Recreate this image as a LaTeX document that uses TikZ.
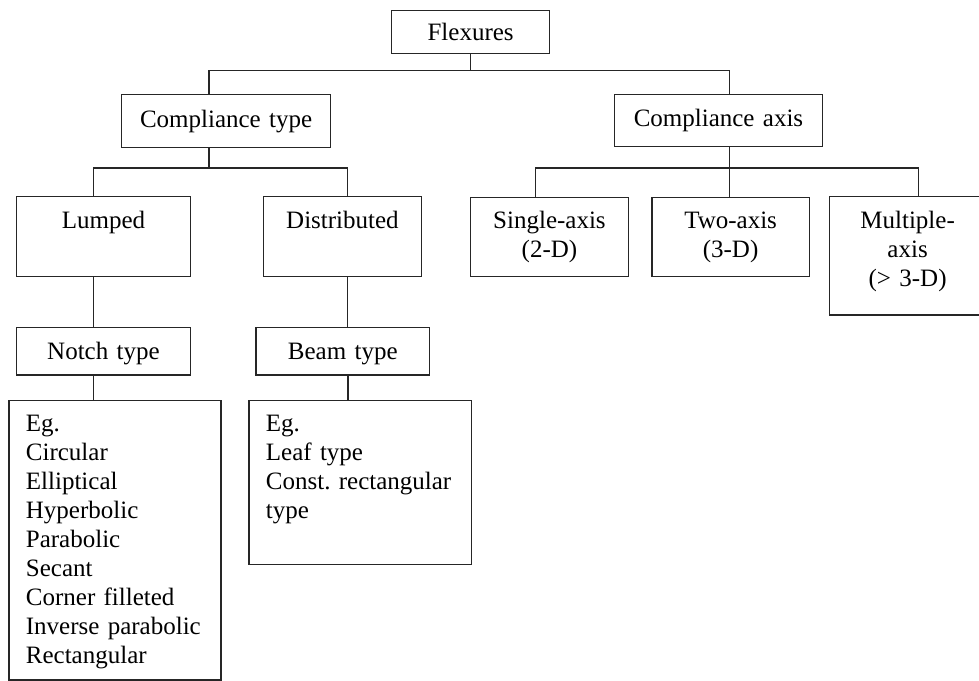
\documentclass[tikz,border=0pt]{standalone}
\usepackage{fontspec}
\setmainfont{Liberation Serif}
\usetikzlibrary{calc}

\begin{document}
\begin{tikzpicture}
[x=1pt,y=-1pt,%
  line width=1.2pt,draw=black!85,%
  every node/.style={font=\fontsize{25}{29}\selectfont},%
  box/.style={draw,anchor=north west,inner sep=0pt,align=center},%
  list/.style={draw,anchor=north west,inner xsep=17pt,inner ysep=0pt,align=left}]
\useasboundingbox (0,0) rectangle (979,680);
\node[box,text width=158pt,text height=30.5pt,text depth=13pt] (flex) at (391,9.5) {Flexures};
\node[box,text width=209pt,text height=33pt,text depth=20pt] (ctype) at (121,94) {Compliance type};
\node[box,text width=208.3pt,text height=32.3pt,text depth=20pt] (caxis) at (613.7,93.7) {Compliance axis};
\node[box,text width=173.7pt,text height=32.3pt,text depth=47.4pt] (lump) at (16,196) {Lumped};
\node[box,text width=157.7pt,text height=32.3pt,text depth=47.4pt] (dist) at (263,196) {Distributed};
\node[box,text width=157.7pt,text height=31pt,text depth=47.7pt] (single) at (470,197) {Single-axis\\(2-D)};
\node[box,text width=157.4pt,text height=31pt,text depth=47.7pt] (two) at (651.3,197) {Two-axis\\(3-D)};
\node[box,text width=156pt,text height=32pt,text depth=86.3pt] (multi) at (829,196) {Multiple-\\axis\\(> 3-D)};
\node[box,text width=173.7pt,text height=31.7pt,text depth=15.9pt] (notch) at (16,326.7) {Notch type};
\node[box,text width=173.7pt,text height=31.7pt,text depth=15.9pt] (beam) at (255.3,326.7) {Beam type};
\node[list,text width=178pt,text height=30.7pt,text depth=248.6pt] (neg) at (8.3,400)
  {Eg.\\Circular\\Elliptical\\Hyperbolic\\Parabolic\\Secant\\Corner filleted\\\mbox{Inverse parabolic}\\Rectangular};
\node[list,text width=188.7pt,text height=30.7pt,text depth=133.3pt] (beg) at (248.3,400)
  {Eg.\\Leaf type\\\mbox{Const.\ rectangular}\\type};
\draw (flex.south) -- ++(0,16.5) coordinate (fbus);
\draw ([xshift=88pt]ctype.north west) |- (fbus) -| ([xshift=11pt]caxis.north);
\draw ([xshift=88pt]ctype.south west) -- ++(0,19.7) coordinate (tbus);
\draw ([xshift=-10pt]lump.north) |- (tbus) -| ([xshift=5.4pt]dist.north);
\draw ([xshift=-10pt]lump.south) -- ([xshift=-10pt]notch.north);
\draw ([xshift=-10pt]notch.south) -- ([xshift=-10pt]notch.south |- neg.north);
\draw ([xshift=5.4pt]dist.south) -- ([xshift=5.4pt]dist.south |- beam.north);
\draw ([xshift=5.2pt]beam.south) -- ([xshift=5.2pt]beam.south |- beg.north);
\draw ([xshift=11pt]caxis.south) -- ([xshift=11pt]caxis.south |- two.north);
\path ([xshift=11pt]caxis.south) ++(0,20.7) coordinate (abus);
\draw ([xshift=-14pt]single.north) |- (abus) -| ([xshift=10.7pt]multi.north);
\end{tikzpicture}
\end{document}
